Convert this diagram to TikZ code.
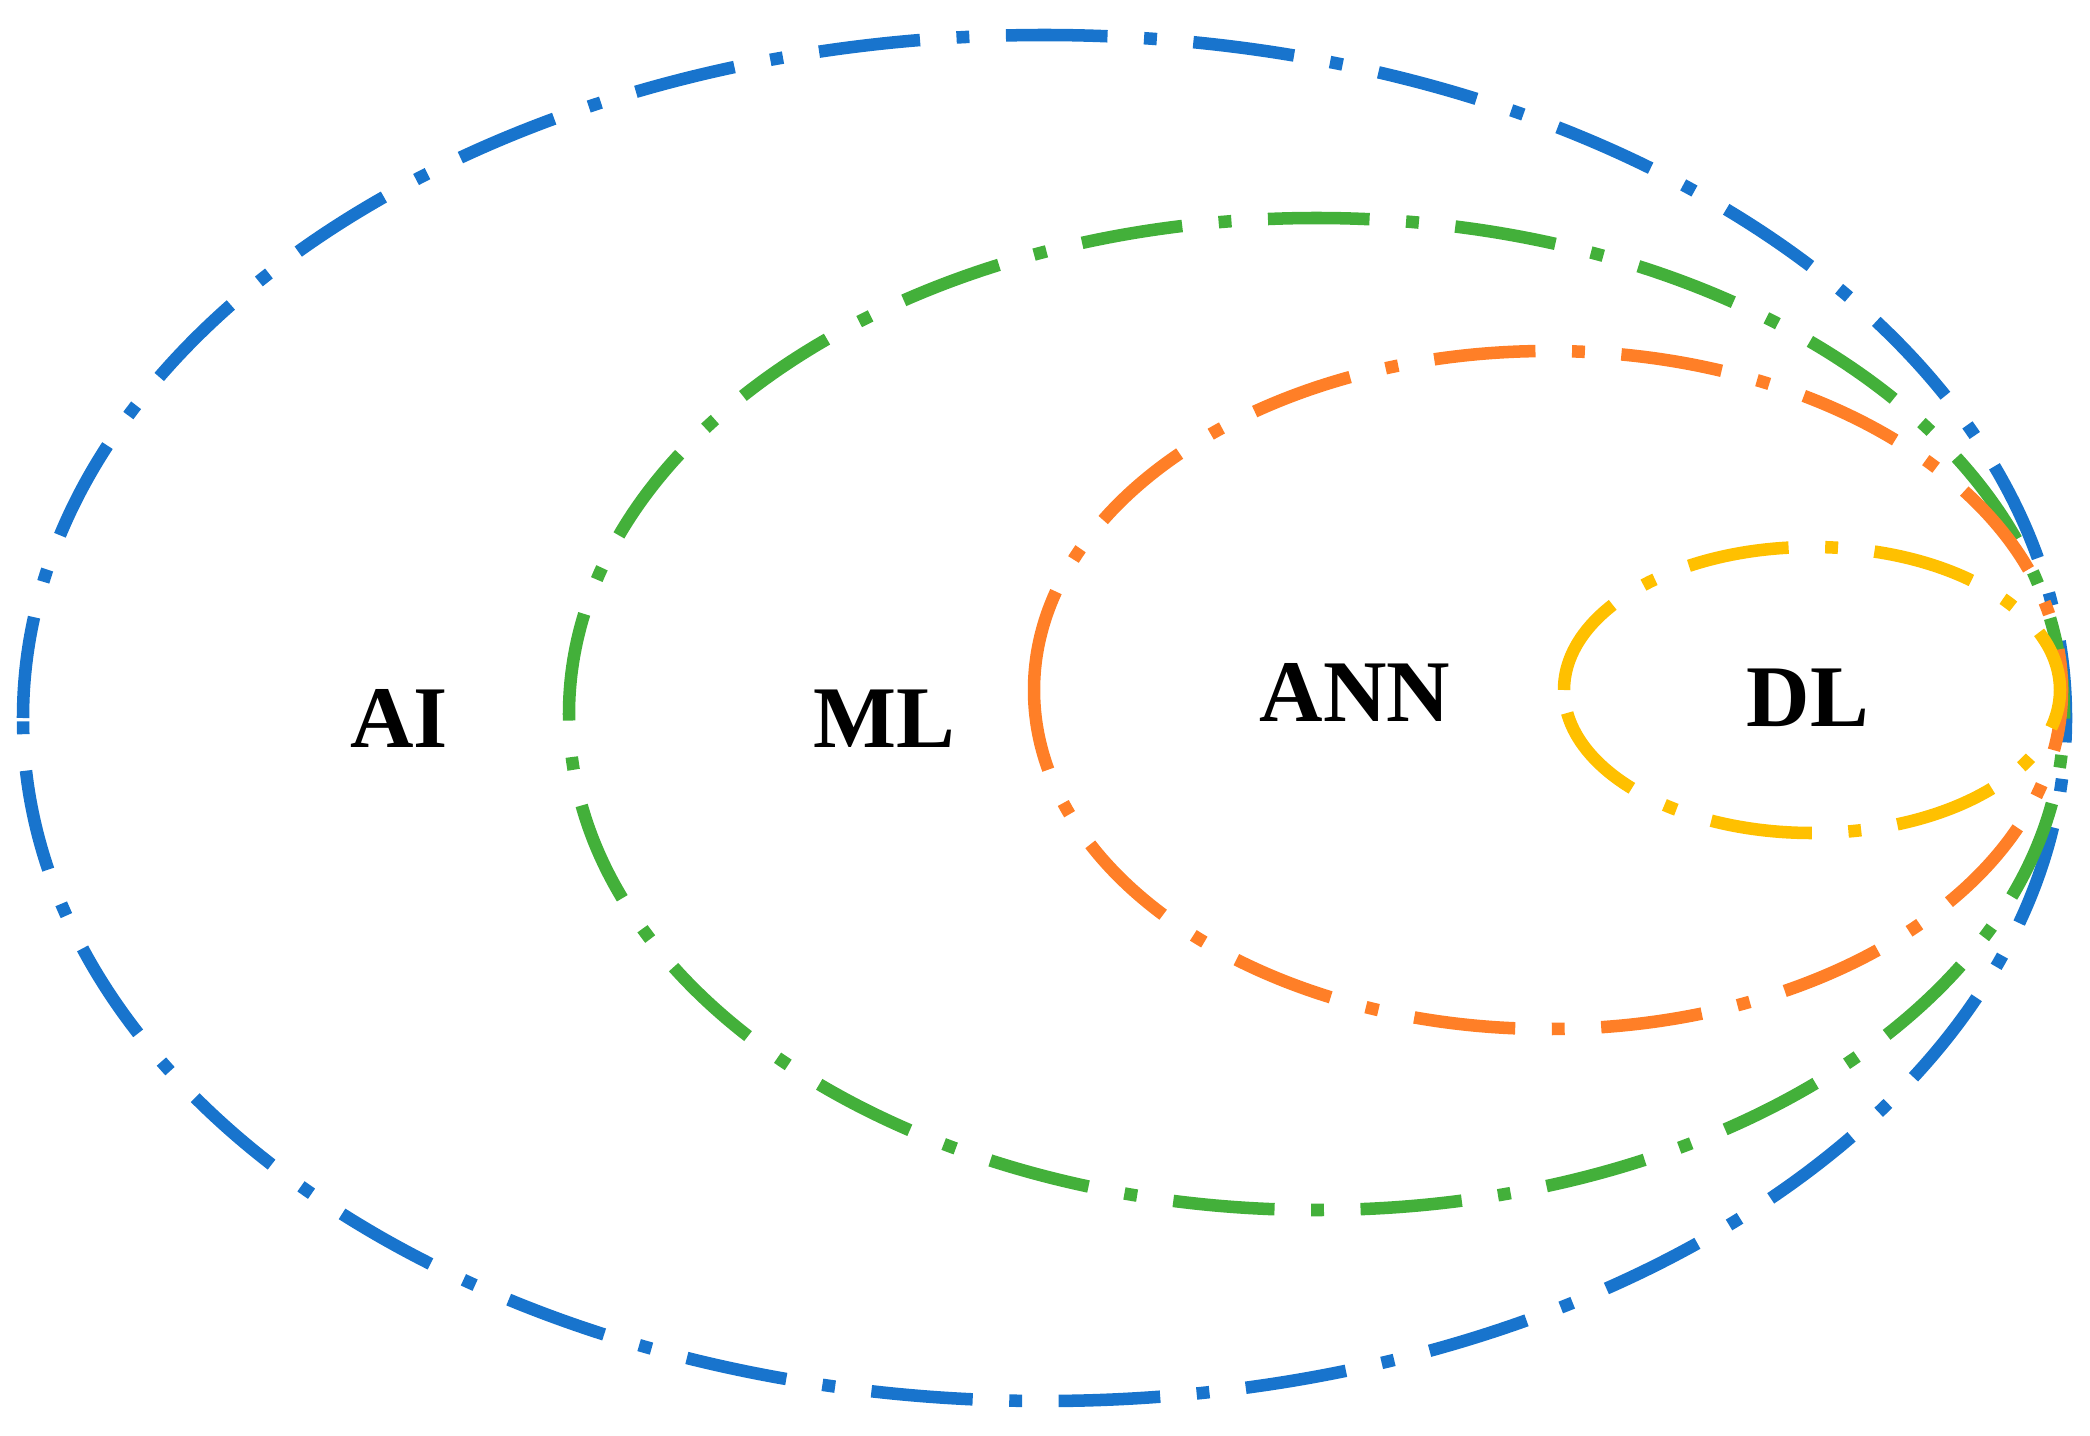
\documentclass[tikz,border=0pt]{standalone}
\usepackage{fontspec}
\setmainfont{Liberation Serif}
\definecolor{cblue}{RGB}{24,116,205}
\definecolor{cgreen}{RGB}{67,176,58}
\definecolor{corange}{RGB}{255,127,39}
\definecolor{cyellow}{RGB}{255,192,0}
\begin{document}
\begin{tikzpicture}[x=0.01cm,y=0.01cm,
  ring/.style={line width=3.56pt, dash pattern=on 28.9pt off 10.4pt on 3.66pt off 10.4pt},
  lbl/.style={anchor=base, inner sep=0pt, font=\fontsize{25}{30}\selectfont\bfseries}]
\useasboundingbox (0,0) rectangle (2090,1435);
% AI
\draw[ring, cblue] (23,717) arc[start angle=180, end angle=-180, x radius=1021.5, y radius=683];
% ML
\draw[ring, cgreen] (569,721) arc[start angle=180, end angle=-180, x radius=747.5, y radius=496];
% ANN
\draw[ring, corange] (1034,745) arc[start angle=180, end angle=-180, x radius=514, y radius=339];
% DL
\draw[ring, cyellow] (1564,745) arc[start angle=180, end angle=-180, x radius=248, y radius=143];
\node[lbl] (ai) at (399,688) {AI};
\node[lbl] (ml) at (884,688) {ML};
\node[lbl] (ann) at (1355,714) {ANN};
\node[lbl] (dl) at (1808,709) {DL};
\end{tikzpicture}
\end{document}
